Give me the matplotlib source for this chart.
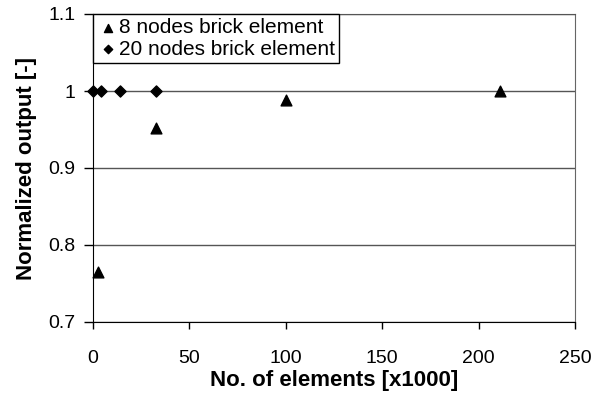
import matplotlib
matplotlib.use("Agg")
import matplotlib.pyplot as plt

plt.rcParams['font.family'] = ['Liberation Sans', 'DejaVu Sans']

x8 = [2.6, 32.5, 100, 211]
y8 = [0.765, 0.952, 0.988, 1.0]
x20 = [0.2, 4, 14, 32.5]
y20 = [1.0, 1.0, 1.0, 1.0]
xticks = [0, 50, 100, 150, 200, 250]
yticks = [0.7, 0.8, 0.9, 1.0, 1.1]
ytick_labels = ['0.7', '0.8', '0.9', '1', '1.1']

fig = plt.figure(figsize=(5.93, 4.0), dpi=100)
ax = fig.add_axes([93/593, 1 - 322/400, (575-93)/593, (322-14)/400])

for y in yticks:
    ax.axhline(y, color='#555555', lw=1.0, zorder=1)

ax.scatter(x8, y8, marker='^', s=60, color='black', zorder=3, label='8 nodes brick element', clip_on=False)
ax.scatter(x20, y20, marker='D', s=32, color='black', zorder=3, label='20 nodes brick element', clip_on=False)

ax.set_xlim(0, 250)
ax.set_ylim(0.7, 1.1)
ax.set_xticks(xticks)
ax.set_yticks(yticks)
ax.set_yticklabels(ytick_labels)
ax.tick_params(axis='both', labelsize=14, direction='out', width=1, color='black')
ax.tick_params(axis='x', pad=15, length=5)
ax.tick_params(axis='y', pad=6, length=6.5)

ax.spines['left'].set_color('black')
ax.spines['bottom'].set_color('black')
ax.spines['right'].set_color('#666666')
ax.spines['top'].set_color('#555555')

ax.set_xlabel('No. of elements [x1000]', fontsize=16, fontweight='bold', labelpad=2)
ax.set_ylabel('Normalized output [-]', fontsize=16, fontweight='bold', labelpad=8)

leg = ax.legend(loc='upper left', bbox_to_anchor=(0.0, 1.0), fontsize=15, frameon=True,
                fancybox=False, edgecolor='black', framealpha=1, borderpad=0.2,
                handletextpad=0.05, handlelength=1.0, labelspacing=0.12, borderaxespad=0,
                markerscale=0.75)
leg.get_frame().set_linewidth(1.0)

fig.savefig('out.png', dpi=100, facecolor='white')
